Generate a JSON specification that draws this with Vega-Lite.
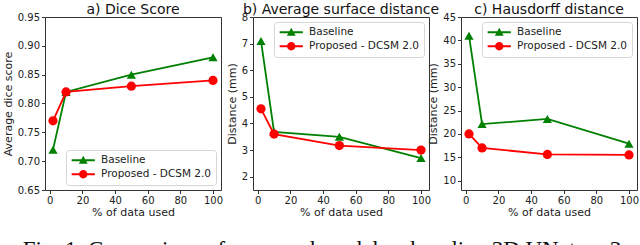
{
  "$schema": "https://vega.github.io/schema/vega-lite/v6.json",
  "background": "white",
  "padding": {"left": 1, "top": 2, "right": 5, "bottom": 5},
  "datasets": {
    "results": [
      {"pct": 2, "series": "Baseline", "dice": 0.72, "asd": 7.1, "hd": 41.0},
      {"pct": 10, "series": "Baseline", "dice": 0.82, "asd": 3.68, "hd": 22.1},
      {"pct": 50, "series": "Baseline", "dice": 0.85, "asd": 3.5, "hd": 23.2},
      {"pct": 100, "series": "Baseline", "dice": 0.88, "asd": 2.7, "hd": 17.9},
      {"pct": 2, "series": "Proposed - DCSM 2.0", "dice": 0.77, "asd": 4.55, "hd": 20.0},
      {"pct": 10, "series": "Proposed - DCSM 2.0", "dice": 0.82, "asd": 3.6, "hd": 17.0},
      {"pct": 50, "series": "Proposed - DCSM 2.0", "dice": 0.83, "asd": 3.17, "hd": 15.6},
      {"pct": 100, "series": "Proposed - DCSM 2.0", "dice": 0.84, "asd": 3.0, "hd": 15.5}
    ]
  },
  "title": {
    "text": "Fig. 1. Comparison of proposed model vs baseline 3D UNet on 3",
    "orient": "bottom",
    "anchor": "start",
    "font": "Liberation Serif",
    "fontSize": 23,
    "fontWeight": "normal",
    "color": "#111",
    "offset": 21,
    "dx": 21
  },
  "spacing": 32,
  "bounds": "flush",
  "hconcat": [
    {
      "width": 176,
      "height": 173,
      "data": {"name": "results"},
      "title": {"text": "a) Dice Score"},
      "encoding": {
        "x": {"field": "pct", "type": "quantitative", "title": "% of data used",
              "scale": {"domain": [-2.9, 104.9], "nice": false, "zero": false},
              "axis": {"values": [0, 20, 40, 60, 80, 100], "titlePadding": 1}},
        "y": {"field": "dice", "type": "quantitative", "title": "Average dice score",
              "scale": {"domain": [0.65, 0.95], "nice": false, "zero": false},
              "axis": {"values": [0.65, 0.7, 0.75, 0.8, 0.85, 0.9, 0.95], "format": ".2f"}},
        "color": {"field": "series", "type": "nominal",
                  "scale": {"domain": ["Baseline", "Proposed - DCSM 2.0"], "range": ["#008000", "#ff0000"]},
                  "legend": {"orient": "bottom-right"}}
      },
      "layer": [
        {"mark": {"type": "line", "strokeWidth": 1.8}},
        {
          "mark": {"type": "point", "filled": true, "opacity": 1, "size": 85},
          "encoding": {
            "shape": {"condition": {"test": "datum.series === 'Baseline'", "value": "triangle-up"}, "value": "circle"}
          }
        },
        {
          "mark": {"type": "point", "filled": true, "opacity": 0, "size": 64},
          "encoding": {
            "shape": {"field": "series", "type": "nominal",
                      "scale": {"domain": ["Baseline", "Proposed - DCSM 2.0"],
                                "range": ["M-2.9,-0.25L2.9,-0.25L2.9,0.25L-2.9,0.25ZM-1.1,0.9L0,-1.1L1.1,0.9Z", "M-2.9,-0.25L2.9,-0.25L2.9,0.25L-2.9,0.25ZM-1.05,0A1.05,1.05,0,1,1,1.05,0A1.05,1.05,0,1,1,-1.05,0Z"]},
                      "legend": {"orient": "bottom-right"}}
          }
        }
      ]
    },
    {
      "width": 176,
      "height": 173,
      "data": {"name": "results"},
      "title": {"text": "b) Average surface distance"},
      "encoding": {
        "x": {"field": "pct", "type": "quantitative", "title": "% of data used",
              "scale": {"domain": [-2.9, 104.9], "nice": false, "zero": false},
              "axis": {"values": [0, 20, 40, 60, 80, 100], "titlePadding": 1}},
        "y": {"field": "asd", "type": "quantitative", "title": "Distance (mm)",
              "scale": {"domain": [1.5, 8], "nice": false, "zero": false},
              "axis": {"values": [2, 3, 4, 5, 6, 7, 8]}},
        "color": {"field": "series", "type": "nominal",
                  "scale": {"domain": ["Baseline", "Proposed - DCSM 2.0"], "range": ["#008000", "#ff0000"]},
                  "legend": {"orient": "top-right"}}
      },
      "layer": [
        {"mark": {"type": "line", "strokeWidth": 1.8}},
        {
          "mark": {"type": "point", "filled": true, "opacity": 1, "size": 85},
          "encoding": {
            "shape": {"condition": {"test": "datum.series === 'Baseline'", "value": "triangle-up"}, "value": "circle"}
          }
        },
        {
          "mark": {"type": "point", "filled": true, "opacity": 0, "size": 64},
          "encoding": {
            "shape": {"field": "series", "type": "nominal",
                      "scale": {"domain": ["Baseline", "Proposed - DCSM 2.0"],
                                "range": ["M-2.9,-0.25L2.9,-0.25L2.9,0.25L-2.9,0.25ZM-1.1,0.9L0,-1.1L1.1,0.9Z", "M-2.9,-0.25L2.9,-0.25L2.9,0.25L-2.9,0.25ZM-1.05,0A1.05,1.05,0,1,1,1.05,0A1.05,1.05,0,1,1,-1.05,0Z"]},
                      "legend": {"orient": "top-right"}}
          }
        }
      ]
    },
    {
      "width": 176,
      "height": 173,
      "data": {"name": "results"},
      "title": {"text": "c) Hausdorff distance"},
      "encoding": {
        "x": {"field": "pct", "type": "quantitative", "title": "% of data used",
              "scale": {"domain": [-2.9, 104.9], "nice": false, "zero": false},
              "axis": {"values": [0, 20, 40, 60, 80, 100], "titlePadding": 1}},
        "y": {"field": "hd", "type": "quantitative", "title": "Distance (mm)",
              "scale": {"domain": [8, 45], "nice": false, "zero": false},
              "axis": {"values": [10, 15, 20, 25, 30, 35, 40, 45]}},
        "color": {"field": "series", "type": "nominal",
                  "scale": {"domain": ["Baseline", "Proposed - DCSM 2.0"], "range": ["#008000", "#ff0000"]},
                  "legend": {"orient": "top-right"}}
      },
      "layer": [
        {"mark": {"type": "line", "strokeWidth": 1.8}},
        {
          "mark": {"type": "point", "filled": true, "opacity": 1, "size": 85},
          "encoding": {
            "shape": {"condition": {"test": "datum.series === 'Baseline'", "value": "triangle-up"}, "value": "circle"}
          }
        },
        {
          "mark": {"type": "point", "filled": true, "opacity": 0, "size": 64},
          "encoding": {
            "shape": {"field": "series", "type": "nominal",
                      "scale": {"domain": ["Baseline", "Proposed - DCSM 2.0"],
                                "range": ["M-2.9,-0.25L2.9,-0.25L2.9,0.25L-2.9,0.25ZM-1.1,0.9L0,-1.1L1.1,0.9Z", "M-2.9,-0.25L2.9,-0.25L2.9,0.25L-2.9,0.25ZM-1.05,0A1.05,1.05,0,1,1,1.05,0A1.05,1.05,0,1,1,-1.05,0Z"]},
                      "legend": {"orient": "top-right"}}
          }
        }
      ]
    }
  ],
  "resolve": {"scale": {"color": "independent", "shape": "independent"}, "legend": {"color": "independent", "shape": "independent"}},
  "config": {
    "font": "DejaVu Sans",
    "view": {"stroke": "#333", "strokeWidth": 1},
    "axis": {
      "grid": false,
      "domain": false,
      "labelFont": "DejaVu Sans",
      "labelFontSize": 10,
      "labelColor": "#222",
      "labelPadding": 2,
      "tickColor": "#333",
      "tickSize": 3.5,
      "titleFont": "DejaVu Sans",
      "titleFontSize": 11,
      "titleFontWeight": "normal",
      "titleColor": "#222",
      "titlePadding": 4
    },
    "title": {"font": "DejaVu Sans", "fontSize": 14, "fontWeight": "normal", "color": "#111", "offset": -5},
    "legend": {
      "title": null,
      "offset": 5,
      "strokeColor": "#d5d5d5",
      "fillColor": "rgba(255,255,255,0.85)",
      "cornerRadius": 3,
      "padding": 5,
      "labelFont": "DejaVu Sans",
      "labelFontSize": 10.5,
      "labelColor": "#222",
      "symbolSize": 64,
      "symbolOpacity": 1,
      "symbolStrokeWidth": 0,
      "symbolOffset": 7,
      "labelOffset": 12.5,
      "rowPadding": 3
    }
  }
}
